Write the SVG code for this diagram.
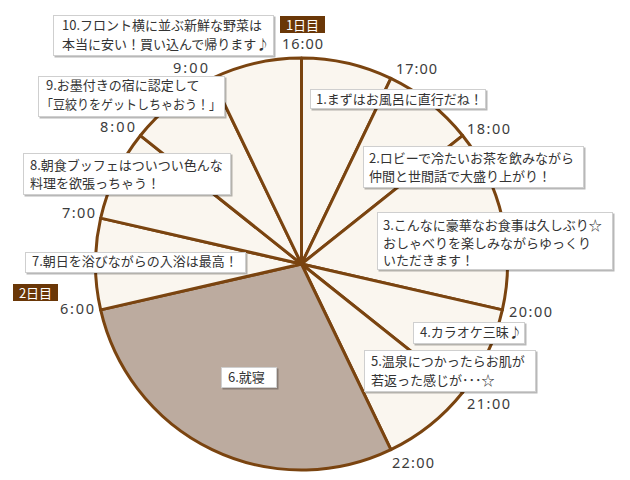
<svg xmlns="http://www.w3.org/2000/svg" width="630" height="480" viewBox="0 0 630 480">
<defs>
<filter id="sh" x="-5%" y="-20%" width="115%" height="150%"><feDropShadow dx="1.5" dy="1.5" stdDeviation="0.7" flood-color="#000" flood-opacity="0.28"/></filter>
<style>
.sl{fill:#FAF6EF;stroke:#7A4410;stroke-width:3;stroke-linejoin:round}
.sleep{fill:#BCAB9F}
.box{fill:#fff;stroke:#CFCFCF;stroke-width:1;filter:url(#sh)}
.t{font-family:"Noto Sans CJK JP","Noto Sans",sans-serif;font-size:13px;fill:#333}
.tm{font-family:"Noto Sans","Noto Sans CJK JP",sans-serif;font-size:14.5px;fill:#3c3c3c}
.tag{fill:#6A3707}
.tagt{font-family:"Noto Sans CJK JP",sans-serif;font-size:13px;fill:#fff;text-anchor:middle}
</style>
</defs>
<rect width="630" height="480" fill="#fff"/>
<g id="pie">
<g id="slice-1"><path class="sl" d="M301.5,264 L301.5,58 A206,206 0 0 1 390.88,78.40 Z"/></g>
<g id="slice-2"><path class="sl" d="M301.5,264 L390.88,78.40 A206,206 0 0 1 462.56,135.56 Z"/></g>
<g id="slice-3"><path class="sl" d="M301.5,264 L462.56,135.56 A206,206 0 0 1 502.34,309.84 Z"/></g>
<g id="slice-4"><path class="sl" d="M301.5,264 L502.34,309.84 A206,206 0 0 1 462.56,392.44 Z"/></g>
<g id="slice-5"><path class="sl" d="M301.5,264 L462.56,392.44 A206,206 0 0 1 390.88,449.60 Z"/></g>
<g id="slice-6"><path class="sl sleep" d="M301.5,264 L390.88,449.60 A206,206 0 0 1 100.66,309.84 Z"/></g>
<g id="slice-7"><path class="sl" d="M301.5,264 L100.66,309.84 A206,206 0 0 1 100.66,218.16 Z"/></g>
<g id="slice-8"><path class="sl" d="M301.5,264 L100.66,218.16 A206,206 0 0 1 140.44,135.56 Z"/></g>
<g id="slice-9"><path class="sl" d="M301.5,264 L140.44,135.56 A206,206 0 0 1 212.12,78.40 Z"/></g>
<g id="slice-10"><path class="sl" d="M301.5,264 L212.12,78.40 A206,206 0 0 1 301.5,58 Z"/></g>
</g>
<g id="times">
<text class="tm" x="282" y="49" textLength="41">16:00</text>
<text class="tm" x="396" y="74" textLength="41">17:00</text>
<text class="tm" x="467" y="134" textLength="43">18:00</text>
<text class="tm" x="509" y="316.5" textLength="43">20:00</text>
<text class="tm" x="467" y="409" textLength="43">21:00</text>
<text class="tm" x="392" y="467.5" textLength="42">22:00</text>
<text class="tm" x="60" y="314" textLength="34">6:00</text>
<text class="tm" x="62" y="218" textLength="33">7:00</text>
<text class="tm" x="100" y="131.5" textLength="35">8:00</text>
<text class="tm" x="173" y="72.5" textLength="35">9:00</text>
</g>
<g id="day-tags">
<g id="day1"><rect class="tag" x="280" y="16" width="45" height="17"/><text class="tagt" x="302.5" y="29.5">1日目</text></g>
<g id="day2"><rect class="tag" x="13" y="284" width="45" height="17"/><text class="tagt" x="35.5" y="297.5">2日目</text></g>
</g>
<g id="labels">
<g id="label-1"><rect class="box" x="310.5" y="89.5" width="175" height="19"/><text class="t" x="316" y="103.5">1.まずはお風呂に直行だね！</text></g>
<g id="label-2"><rect class="box" x="363.5" y="146.5" width="220" height="41"/><text class="t" x="369" y="162.5">2.ロビーで冷たいお茶を飲みながら</text><text class="t" x="369" y="180.5">仲間と世間話で大盛り上がり！</text></g>
<g id="label-3"><rect class="box" x="377.5" y="212.5" width="235" height="57"/><text class="t" x="383" y="229.5">3.こんなに豪華なお食事は久しぶり☆</text><text class="t" x="383" y="247.5">おしゃべりを楽しみながらゆっくり</text><text class="t" x="383" y="265">いただきます！</text></g>
<g id="label-4"><rect class="box" x="413.5" y="322.5" width="111" height="21"/><text class="t" x="420" y="337">4.カラオケ三昧♪</text></g>
<g id="label-5"><rect class="box" x="364.5" y="350.5" width="171" height="41"/><text class="t" x="371" y="366">5.温泉につかったらお肌が</text><text class="t" x="371" y="384.5">若返った感じが･･･☆</text></g>
<g id="label-6"><rect class="box" x="221.5" y="367.5" width="55" height="20"/><text class="t" x="228" y="382">6.就寝</text></g>
<g id="label-7"><rect class="box" x="25.5" y="252.5" width="220" height="20"/><text class="t" x="32" y="266">7.朝日を浴びながらの入浴は最高！</text></g>
<g id="label-8"><rect class="box" x="23.5" y="153.5" width="207" height="41"/><text class="t" x="30" y="170">8.朝食ブッフェはついつい色んな</text><text class="t" x="30" y="187.5">料理を欲張っちゃう！</text></g>
<g id="label-9"><rect class="box" x="38.5" y="76.5" width="186" height="40"/><text class="t" x="46" y="90">9.お墨付きの宿に認定して</text><text class="t" x="41" y="108.5" textLength="180" lengthAdjust="spacingAndGlyphs">「豆絞りをゲットしちゃおう！」</text></g>
<g id="label-10"><rect class="box" x="53.5" y="15.5" width="220" height="40"/><text class="t" x="62" y="30">10.フロント横に並ぶ新鮮な野菜は</text><text class="t" x="62" y="48.5">本当に安い！買い込んで帰ります♪</text></g>
</g>
</svg>
